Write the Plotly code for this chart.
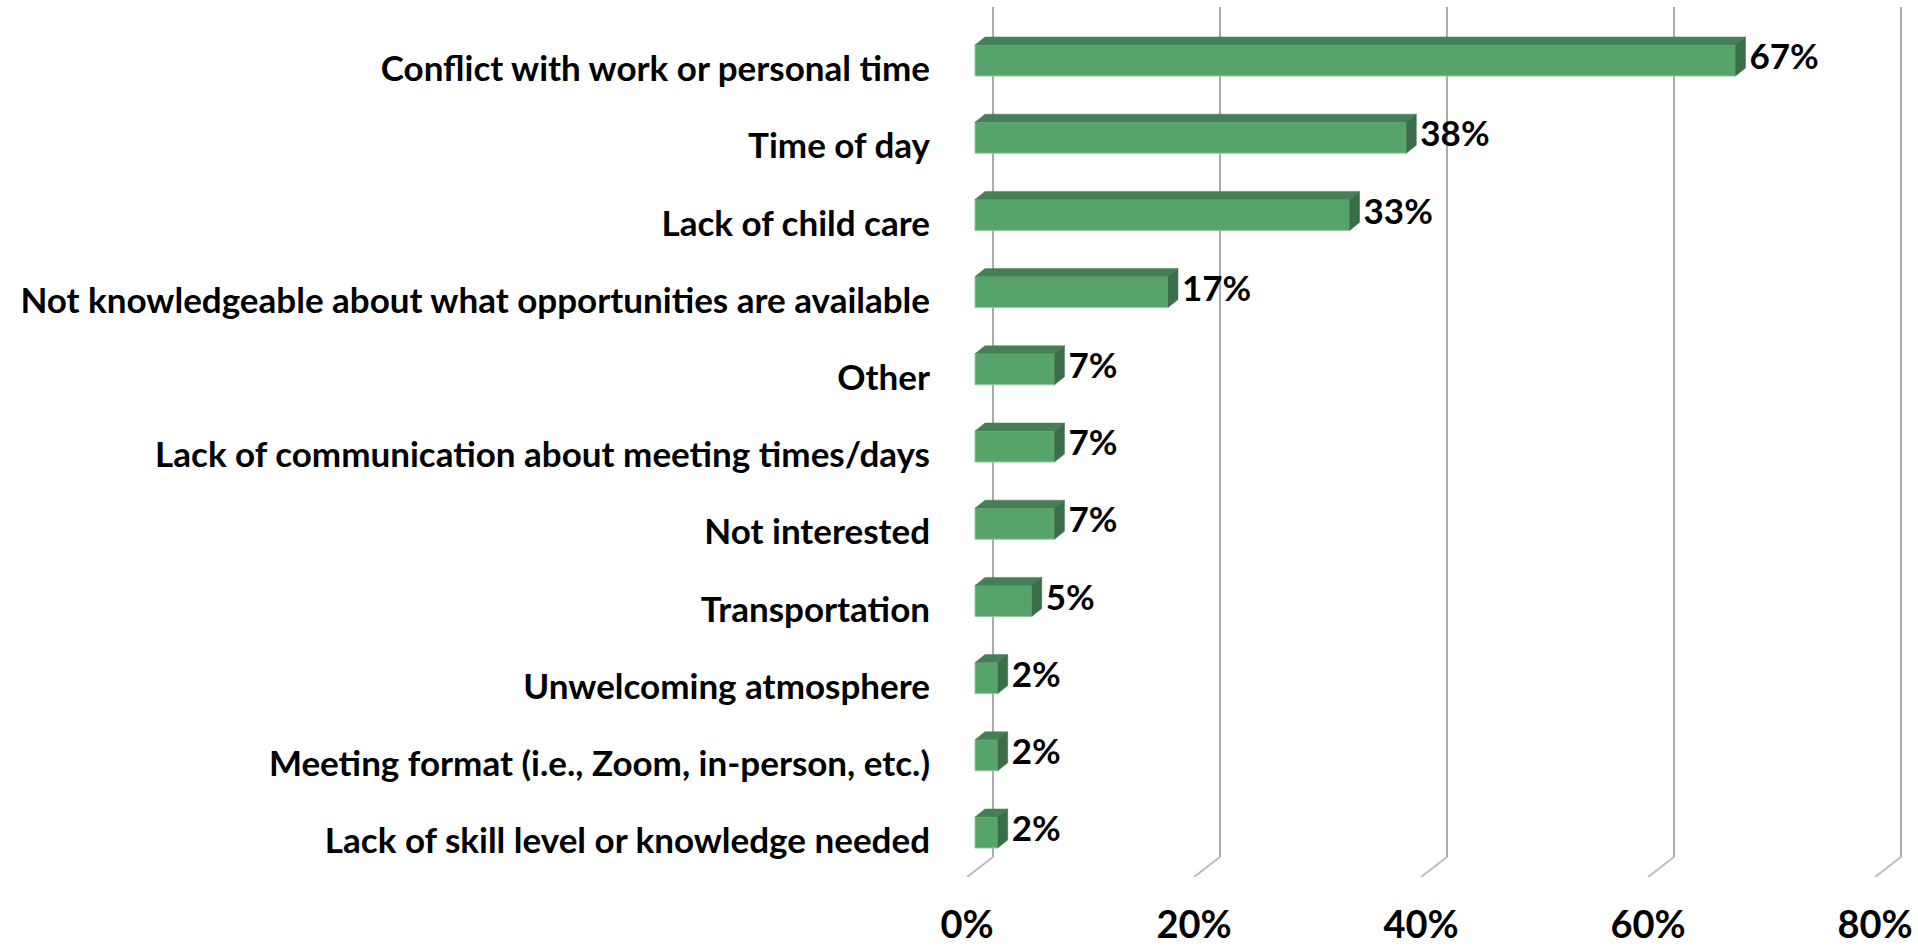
import plotly.graph_objects as go

# ---- data ----
categories = [
    "Conflict with work or personal time",
    "Time of day",
    "Lack of child care",
    "Not knowledgeable about what opportunities are available",
    "Other",
    "Lack of communication about meeting times/days",
    "Not interested",
    "Transportation",
    "Unwelcoming atmosphere",
    "Meeting format (i.e., Zoom, in-person, etc.)",
    "Lack of skill level or knowledge needed",
]
values = [67, 38, 33, 17, 7, 7, 7, 5, 2, 2, 2]
value_labels = ["67%", "38%", "33%", "17%", "7%", "7%", "7%", "5%", "2%", "2%", "2%"]
tick_values = [0, 20, 40, 60, 80]
tick_labels = ["0%", "20%", "40%", "60%", "80%"]

# ---- geometry / style ----
W, H = 1918, 948
PX_X = 11.35          # pixels per percent
X0_PX = 967           # pixel of 0% on the floor front plane
PLOT_L, PLOT_R = 955, 1912
PLOT_T, PLOT_B = 7, 877
PX_Y = 77.2           # pixels per category
Y0_PX = 69            # pixel of first category label centre

FONT = "Lato"
FSIZE = 35
FSIZE_TICK = 38
FRONT = "#57A46B"
TOP = "#447F55"
SIDE = "#3A6D48"
EDGE = "#93C9A1"
GRID = "#ABABAB"


def xu(px):
    return px / PX_X


def yu(px):
    return px / PX_Y


xmin = (PLOT_L - X0_PX) / PX_X
xmax = (PLOT_R - X0_PX) / PX_X
ytop = (PLOT_T - Y0_PX) / PX_Y
ybot = (PLOT_B - Y0_PX) / PX_Y

pos = list(range(len(categories)))
base = xu(8)
front_h = yu(31)
front_off = -yu(24)
ddx, ddy = xu(10), yu(8)

fig = go.Figure()

fig.add_trace(go.Bar(
    y=pos, x=values, base=base, orientation="h",
    width=front_h, offset=front_off,
    marker=dict(color=FRONT, line=dict(color=EDGE, width=1)),
    hoverinfo="skip", showlegend=False,
))

top_x, top_y, side_x, side_y = [], [], [], []
for i, v in zip(pos, values):
    ft = i + front_off
    fb = ft + front_h
    xl, xr = base, base + v
    top_x += [xl, xr, xr + ddx, xl + ddx, xl, None]
    top_y += [ft, ft, ft - ddy, ft - ddy, ft, None]
    side_x += [xr, xr + ddx, xr + ddx, xr, xr, None]
    side_y += [ft, ft - ddy, fb - ddy, fb, ft, None]

fig.add_trace(go.Scatter(x=top_x, y=top_y, mode="lines", fill="toself",
                         fillcolor=TOP, line=dict(color=TOP, width=0.5),
                         hoverinfo="skip", showlegend=False))
fig.add_trace(go.Scatter(x=side_x, y=side_y, mode="lines", fill="toself",
                         fillcolor=SIDE, line=dict(color=SIDE, width=0.5),
                         hoverinfo="skip", showlegend=False))

fig.add_trace(go.Scatter(
    x=[base + v + ddx + xu(4) for v in values],
    y=[i + front_off + front_h / 2 for i in pos],
    mode="text", text=value_labels, textposition="middle right",
    textfont=dict(family=FONT, size=FSIZE, color="black", weight="bold"),
    hoverinfo="skip", showlegend=False, cliponaxis=False,
))

shapes = []
for t in tick_values:
    bx = t + xu(26)
    yb = ybot - yu(20)
    shapes.append(dict(type="line", xref="x", yref="y", x0=bx, x1=bx, y0=ytop, y1=yb,
                       line=dict(color=GRID, width=2), layer="below"))
    shapes.append(dict(type="line", xref="x", yref="y", x0=bx, x1=t, y0=yb, y1=ybot,
                       line=dict(color="#BDBDBD", width=2), layer="below"))

fig.update_layout(
    width=W, height=H,
    margin=dict(l=PLOT_L, r=W - PLOT_R, t=PLOT_T, b=H - PLOT_B, pad=0, autoexpand=False),
    paper_bgcolor="white", plot_bgcolor="white",
    shapes=shapes,
    showlegend=False,
    xaxis=dict(range=[xmin, xmax], tickmode="array", tickvals=tick_values,
               ticktext=tick_labels, showgrid=False, zeroline=False, showline=False,
               ticks="", ticklabelstandoff=22, automargin=False,
               tickfont=dict(family=FONT, size=FSIZE_TICK, color="black", weight="bold"),
               fixedrange=True),
    yaxis=dict(range=[ybot, ytop], tickmode="array", tickvals=pos, ticktext=categories,
               showgrid=False, zeroline=False, showline=False, ticks="",
               ticklabelstandoff=24, automargin=False,
               tickfont=dict(family=FONT, size=FSIZE, color="black", weight="bold"),
               fixedrange=True),
)

fig.write_html(
    "out.html",
    config={"displayModeBar": False},
    post_script="document.body.style.margin='0';document.body.style.overflow='hidden';",
)
